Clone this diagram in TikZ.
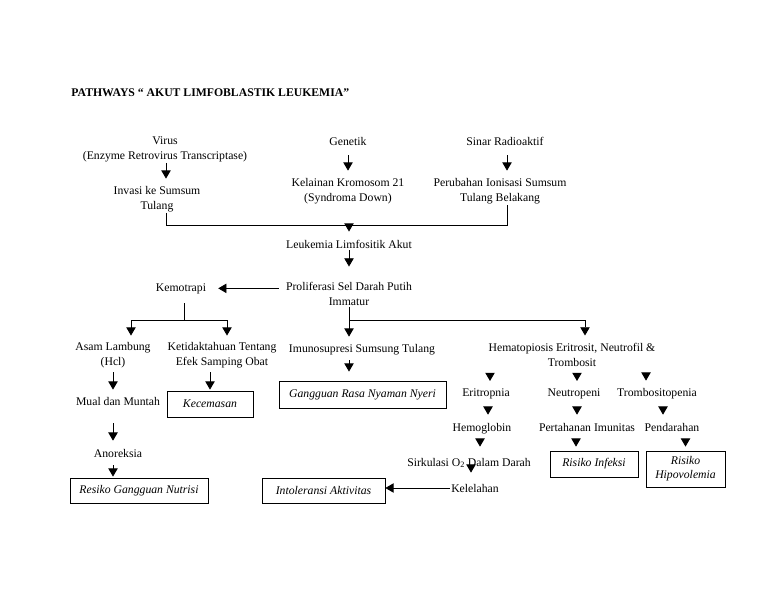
\documentclass[tikz,border=0pt]{standalone}
\usepackage{fontspec}
\setmainfont{Liberation Serif}
\usepackage{tikz}
\usetikzlibrary{arrows.meta}

\begin{document}
\begin{tikzpicture}[x=0.03cm, y=-0.03cm,
	txt/.style={align=center, anchor=base, inner sep=1pt},
	box/.style={rectangle, draw=black, align=center, inner sep=0pt,
		font=\itshape, line width=0.7pt},
	line/.style={line width=0.7pt},
	arr/.style={line width=0.7pt, -{Triangle[width=8pt,length=7pt]}}]
			
			\useasboundingbox (0,0) rectangle (768,594);
			
			\node[txt, anchor=base west, font=\bfseries] (title) at (70,97) {PATHWAYS `` AKUT LIMFOBLASTIK LEUKEMIA''};
			
			\node[txt] (virus) at (165,159) {Virus \\ (Enzyme Retrovirus Transcriptase)};
			\node[txt] (invasi) at (157,209) {Invasi ke Sumsum \\ Tulang};
			\node[txt] (genetik) at (348,145) {Genetik};
			\node[txt] (kelainan) at (348,201) {Kelainan Kromosom 21 \\ (Syndroma Down)};
			\node[txt] (sinar) at (505,145) {Sinar Radioaktif};
			\node[txt] (perubahan) at (500,201) {Perubahan Ionisasi Sumsum \\ Tulang Belakang};
			
			\node[txt] (leukemia) at (349,248) {Leukemia Limfositik Akut};
			\node[txt] (prolif) at (349,305) {Proliferasi Sel Darah Putih \\ Immatur};
			\node[txt] (kemo) at (181,291) {Kemotrapi};
			
			\node[txt] (asam) at (113,365) {Asam Lambung \\ (Hcl)};
			\node[txt] (ketidak) at (222,365) {Ketidaktahuan Tentang \\ Efek Samping Obat};
			\node[txt] (mual) at (118,405) {Mual dan Muntah};
			\node[txt] (anoreksia) at (118,457) {Anoreksia};
			\node[txt] (imuno) at (362,352) {Imunosupresi Sumsung Tulang};
			\node[txt] (hemato) at (572,366) {Hematopiosis Eritrosit, Neutrofil \& \\ Trombosit};
			
			\node[txt] (eritro) at (486,396) {Eritropnia};
			\node[txt] (neutro) at (574,396) {Neutropeni};
			\node[txt] (trombo) at (657,396) {Trombositopenia};
			\node[txt] (hemo) at (482,431) {Hemoglobin};
			\node[txt] (pertahanan) at (587,431) {Pertahanan Imunitas};
			\node[txt] (pendarahan) at (672,431) {Pendarahan};
			\node[txt] (sirkulasi) at (469,466) {Sirkulasi O\textsubscript{2} Dalam Darah};
			\node[txt] (kelelahan) at (475,492) {Kelelahan};
			
			\node[box, minimum width=4.14cm, minimum height=0.75cm] (nutrisi) at (139,490.5) {Resiko Gangguan Nutrisi};
			\node[box, minimum width=2.58cm, minimum height=0.78cm] (kecemasan) at (210,404) {Kecemasan};
			\node[box, minimum width=5.01cm, minimum height=0.81cm] (nyeri) at (362.5,394.5) {Gangguan Rasa Nyaman Nyeri};
			\node[box, minimum width=3.69cm, minimum height=0.75cm] (intoleransi) at (323.5,490.5) {Intoleransi Aktivitas};
			\node[box, minimum width=2.64cm, minimum height=0.78cm] (infeksi) at (594,464) {Risiko Infeksi};
			\node[box, minimum width=2.37cm, minimum height=1.08cm] (hipo) at (685.5,469) {Risiko \\ Hipovolemia};
			
			\coordinate (jl) at (166,225);
			\coordinate (jr) at (507,225);
			\coordinate (j) at (349,225);
			\coordinate (kf) at (184,320);
			\coordinate (pf) at (349,320);
			
			\draw[arr, shorten >=5.8pt] ([xshift=0.03cm]virus.south) -- ([xshift=0.03cm]virus.south |- invasi.north);
			\draw[arr, shorten <=7.5pt, shorten >=5.8pt] (genetik.south) -- (genetik.south |- kelainan.north);
			\draw[arr, shorten <=7.5pt, shorten >=5.8pt] ([xshift=0.06cm]sinar.south) -- ([xshift=0.06cm]sinar.south |- perubahan.north);
			
			\draw[line] (jl |- invasi.south) -- (jl) -- (jr) -- (jr |- perubahan.south);
			\draw[arr, shorten >=5.8pt] (j) -- (leukemia.north);
			\draw[arr, shorten <=0.7pt, shorten >=12.6pt] (leukemia.south) -- (prolif.north);
			\draw[arr, shorten <=5pt, shorten >=9.2pt] (prolif.west |- kemo) -- (kemo.east);
			
			\draw[line, shorten <=7pt] (kemo.south -| kf) -- (kf);
			\draw[arr, shorten >=5pt] (kf) -| ([xshift=0.54cm]asam.north);
			\draw[arr, shorten >=5pt] (kf) -| ([xshift=0.15cm]ketidak.north);
			\draw[line] (prolif.south) -- (pf);
			\draw[arr, shorten >=5pt] (pf) -- (pf |- imuno.north);
			\draw[arr, shorten >=5.8pt] (pf) -| ([xshift=0.39cm]hemato.north);
			
			\draw[arr, shorten <=2.7pt, shorten >=5pt] (asam.south) -- (asam.south |- mual.north);
			\draw[arr, shorten <=2.7pt, shorten >=0.85pt] (ketidak.south -| kecemasan.north) -- (kecemasan.north);
			\draw[arr, shorten <=14.3pt, shorten >=5.8pt] (mual.south -| asam.south) -- (anoreksia.north -| asam.south);
			\draw[arr, shorten <=5.8pt, shorten >=0.85pt] (anoreksia.south -| asam.south) -- (nutrisi.north -| asam.south);
			\draw[arr, shorten <=3.6pt, shorten >=7.7pt] (imuno.south -| pf) -- (nyeri.north -| pf);
			
			\draw[arr, shorten <=5pt, shorten >=5pt] ([xshift=0.12cm]eritro.north |- hemato.south) -- ([xshift=0.12cm]eritro.north);
			\draw[arr, shorten <=5pt, shorten >=5pt] ([xshift=0.09cm]neutro.north |- hemato.south) -- ([xshift=0.09cm]neutro.north);
			\draw[arr, shorten <=5pt, shorten >=5pt] ([xshift=-0.33cm]trombo.north |- hemato.south) -- ([xshift=-0.33cm]trombo.north);
			
			\draw[arr, shorten <=6.1pt, shorten >=5.8pt] ([xshift=0.06cm]eritro.south) -- ([xshift=0.06cm]eritro.south |- hemo.north);
			\draw[arr, shorten <=6.1pt, shorten >=5.8pt] ([xshift=0.09cm]neutro.south) -- ([xshift=0.09cm]neutro.south |- pertahanan.north);
			\draw[arr, shorten <=6.1pt, shorten >=5.8pt] ([xshift=0.18cm]trombo.south) -- ([xshift=0.18cm]trombo.south |- pendarahan.north);
			
			\draw[arr, shorten <=5.3pt, shorten >=8.4pt] ([xshift=-0.06cm]hemo.south) -- ([xshift=-0.06cm]hemo.south |- sirkulasi.north);
			\draw[arr, shorten <=7.5pt, shorten >=3.4pt] ([xshift=0.06cm]neutro.south |- pertahanan.south) -- ([xshift=0.06cm]neutro.south |- infeksi.north);
			\draw[arr, shorten <=7.5pt, shorten >=3.4pt] (hipo.north |- pendarahan.south) -- (hipo.north);
			\draw[arr, shorten >=8.4pt] ([xshift=0.06cm]sirkulasi.south) -- ([xshift=0.06cm]sirkulasi.south |- kelelahan.north);
			\draw[arr] (kelelahan.west) -- (kelelahan.west -| intoleransi.east);
			
		\end{tikzpicture}
\end{document}
